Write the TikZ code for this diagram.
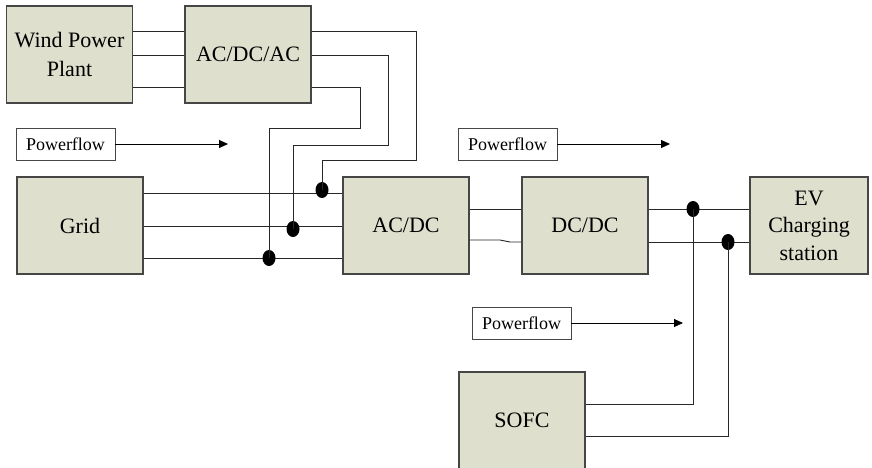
\documentclass[tikz,border=0pt]{standalone}
\usepackage{fontspec}
\setmainfont{Liberation Serif}
\usetikzlibrary{arrows.meta}
\definecolor{boxfill}{RGB}{222,224,205}
\definecolor{boxline}{RGB}{70,70,70}
\definecolor{wire}{RGB}{40,40,40}
\tikzset{
  unit/.style={draw=boxline, line width=1.1pt, fill=boxfill, minimum width=126pt,
    minimum height=97pt, inner sep=0pt, align=center,
    font=\fontsize{22}{28}\selectfont},
  flowbox/.style={draw=boxline, line width=0.9pt, fill=white, minimum width=99pt,
    minimum height=32pt, inner sep=0pt, font=\fontsize{18}{22}\selectfont},
  wireline/.style={draw=wire, line width=0.9pt},
  flowarrow/.style={draw=black, line width=0.9pt, -{Triangle[length=9pt,width=8pt]}},
  junction/.style={fill=black, ellipse, minimum width=13pt, minimum height=16pt, inner sep=0pt}
}
\usetikzlibrary{shapes.geometric}
\begin{document}
\begin{tikzpicture}[x=1pt,y=-1pt]
\useasboundingbox (0,0) rectangle (872,468);

% converter and source blocks
\node[unit, font=\fontsize{22}{29}\selectfont] (wpp) at (69.5,54.5) {Wind Power\\Plant};
\node[unit] (acdcac) at (248,54.5) {AC/DC/AC};
\node[unit] (grid) at (80,225.5) {Grid};
\node[unit] (acdc) at (406,225.5) {AC/DC};
\node[unit] (dcdc) at (585,225.5) {DC/DC};
\node[unit, minimum width=118pt, font=\fontsize{22}{27.5}\selectfont] (ev) at (809,225.5) {EV\\Charging\\station};
\node[unit] (sofc) at (522,420.5) {SOFC};

% power flow labels
\node[flowbox] (pf1) at (65.5,144) {Powerflow};
\node[flowbox] (pf2) at (507.5,144) {Powerflow};
\node[flowbox] (pf3) at (521.5,323) {Powerflow};
\coordinate (pf1end) at (228,144);
\coordinate (pf2end) at (670,144);
\coordinate (pf3end) at (683,323);
\draw[flowarrow] (pf1) -- (pf1end);
\draw[flowarrow] (pf2) -- (pf2end);
\draw[flowarrow] (pf3) -- (pf3end);

% three-phase link wind plant -> AC/DC/AC
\foreach \y in {31,55,87}
  \draw[wireline] (wpp.east |- 0,\y) -- (acdcac.west |- 0,\y);

% three-phase link grid -> AC/DC
\foreach \y in {193,226,258}
  \draw[wireline] (grid.east |- 0,\y) -- (acdc.west |- 0,\y);

% junctions on the grid bus
\node[junction] (j1) at (322,190) {};
\node[junction] (j2) at (293,229) {};
\node[junction] (j3) at (269,258) {};

% AC/DC/AC outputs tapped into the grid bus
\draw[wireline] (acdcac.east |- 0,31) -- (416,31) -- (416,160) -- (322,160) -- (j1.center);
\draw[wireline] (acdcac.east |- 0,55) -- (388,55) -- (388,145) -- (293,145) -- (j2.center);
\draw[wireline] (acdcac.east |- 0,87) -- (360,87) -- (360,128) -- (269,128) -- (j3.center);

% DC link AC/DC -> DC/DC
\draw[wireline] (acdc.east |- 0,209) -- (dcdc.west |- 0,209);
\draw[wireline] (acdc.east |- 0,240) -- (500,240) -- (510,242) -- (dcdc.west |- 0,242);

% DC/DC -> EV charging station
\draw[wireline] (dcdc.east |- 0,209) -- (ev.west |- 0,209);
\draw[wireline] (dcdc.east |- 0,242) -- (ev.west |- 0,242);
\node[junction] (j4) at (693,209) {};
\node[junction] (j5) at (728,242) {};

% SOFC feeding the DC bus
\draw[wireline] (j4.center) -- (693,404) -- (sofc.east |- 0,404);
\draw[wireline] (j5.center) -- (728,436) -- (sofc.east |- 0,436);
\end{tikzpicture}
\end{document}
